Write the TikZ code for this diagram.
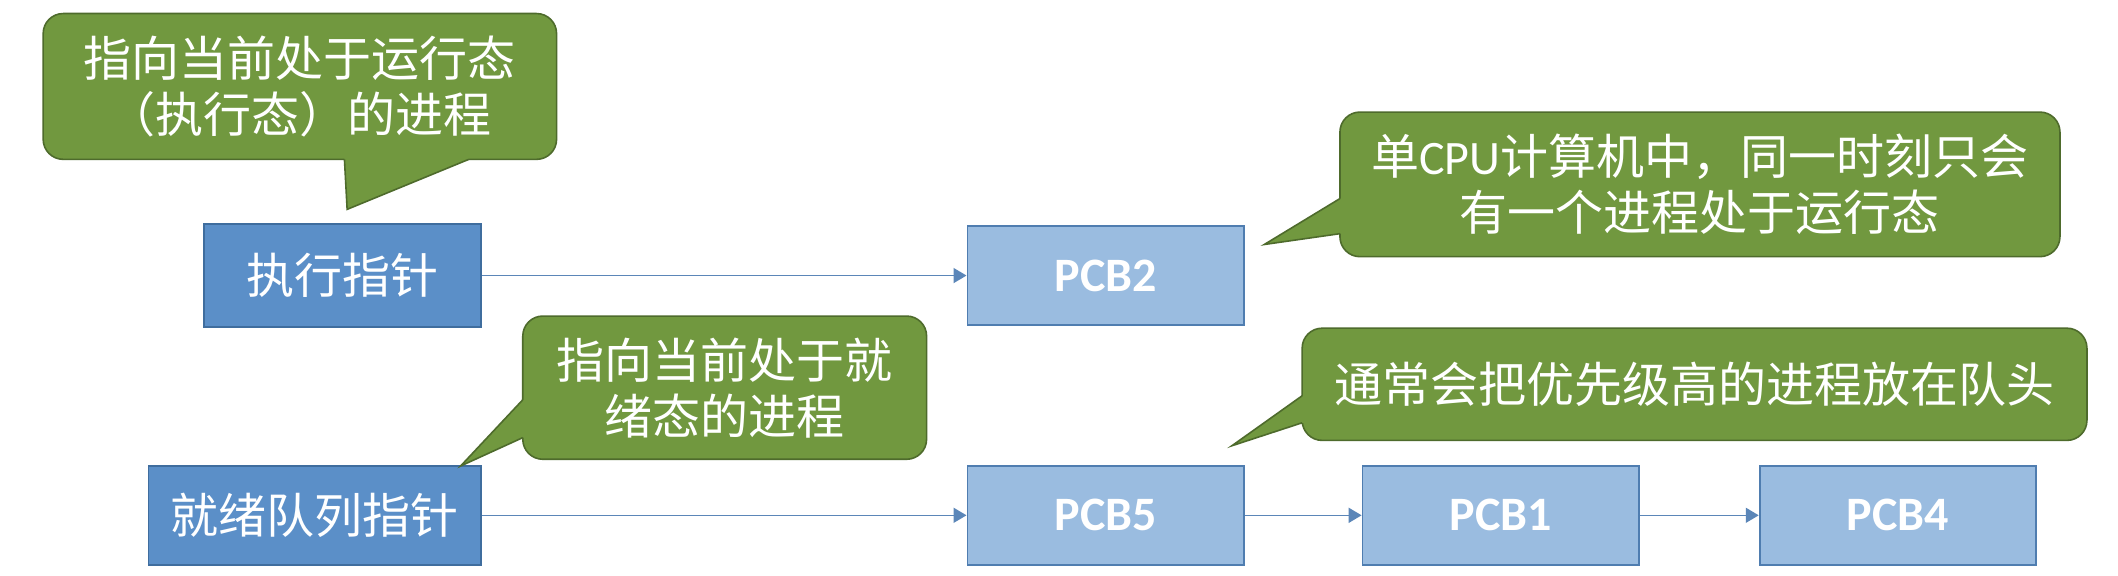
\documentclass[tikz,border=0pt]{standalone}
\usepackage{fontspec}
\setmainfont{Carlito}
\newfontfamily\cjk{Noto Sans CJK SC}
\usetikzlibrary{arrows.meta}
\definecolor{darkbox}{HTML}{5B8FC8}
\definecolor{darkedge}{HTML}{3F6D9E}
\definecolor{lightbox}{HTML}{9ABCE0}
\definecolor{lightedge}{HTML}{4F7DB0}
\definecolor{callfill}{HTML}{71983F}
\definecolor{calledge}{HTML}{4E6B2C}
\definecolor{arrowcol}{HTML}{5B86B8}
\tikzset{
 ptrbox/.style={draw=darkedge, fill=darkbox, line width=0.9pt, text=white, font=\cjk\fontsize{24}{28}\selectfont, inner sep=0pt},
 pcbbox/.style={draw=lightedge, fill=lightbox, line width=0.9pt, text=white, font=\bfseries\fontsize{24}{28}\selectfont, minimum width=138.2pt, minimum height=49.5pt, inner sep=0pt},
 callbody/.style={draw=calledge, fill=callfill, line width=0.8pt, rounded corners=10pt, text=white, font=\cjk\fontsize{24}{28}\selectfont, align=center, inner sep=0pt},
 tailfill/.style={fill=callfill},
 tailedge/.style={draw=calledge, line width=0.8pt, line join=miter},
 link/.style={draw=arrowcol, line width=0.8pt, -{Triangle[length=6.5pt,width=7.5pt]}}
}
\begin{document}
\begin{tikzpicture}[x=0.6754pt,y=-0.6754pt]
\useasboundingbox[fill=white] (0,0) rectangle (1568,425.7);

% pointer boxes
\node[ptrbox, minimum width=138.5pt, minimum height=51.3pt] (exec) at (253.5,204) {执行指针};
\node[ptrbox, minimum width=166.2pt, minimum height=49.3pt] (ready) at (233,381.5) {就绪队列指针};

% PCB boxes
\node[pcbbox] (pcb2) at (818.5,204) {PCB2};
\node[pcbbox] (pcb5) at (818.5,381.5) {PCB5};
\node[pcbbox] (pcb1) at (1111,381.5) {PCB1};
\node[pcbbox] (pcb4) at (1405,381.5) {PCB4};

% connectors
\draw[link] (exec.east) -- (pcb2.west);
\draw[link] (ready.east) -- (pcb5.west);
\draw[link] (pcb5.east) -- (pcb1.west);
\draw[link] (pcb1.east) -- (pcb4.west);

% callout A
\node[callbody, minimum width=256.7pt, minimum height=72.9pt] (callA) at (222,64) {指向当前处于运行态\\（执行态）的进程};
\coordinate (tipA) at (257,155);
\fill[tailfill] (255,114) -- (255,118) -- (tipA) -- (347,118) -- (347,114) -- cycle;
\draw[tailedge] (255,118) -- (tipA) -- (347,118);

% callout B
\node[callbody, minimum width=360pt, minimum height=72.3pt] (callB) at (1258.5,136.5) {单{\rmfamily CPU}计算机中，同一时刻只会\\有一个进程处于运行态};
\coordinate (tipB) at (936,181);
\fill[tailfill] (996,147) -- (992,147) -- (tipB) -- (992,173) -- (996,173) -- cycle;
\draw[tailedge] (992,147) -- (tipB) -- (992,173);

% callout C
\node[callbody, minimum width=201.9pt, minimum height=71.6pt] (callC) at (536.5,287) {指向当前处于就\\绪态的进程};
\coordinate (tipC) at (341,345);
\fill[tailfill] (391,296) -- (387,296) -- (tipC) -- (387,324) -- (391,324) -- cycle;
\draw[tailedge] (387,296) -- (tipC) -- (387,324);

% callout D
\node[callbody, minimum width=392.4pt, minimum height=56.1pt] (callD) at (1254.5,284.5) {通常会把优先级高的进程放在队头};
\coordinate (tipD) at (912,330);
\fill[tailfill] (968,293) -- (964,293) -- (tipD) -- (964,313) -- (968,313) -- cycle;
\draw[tailedge] (964,293) -- (tipD) -- (964,313);
\end{tikzpicture}
\end{document}
